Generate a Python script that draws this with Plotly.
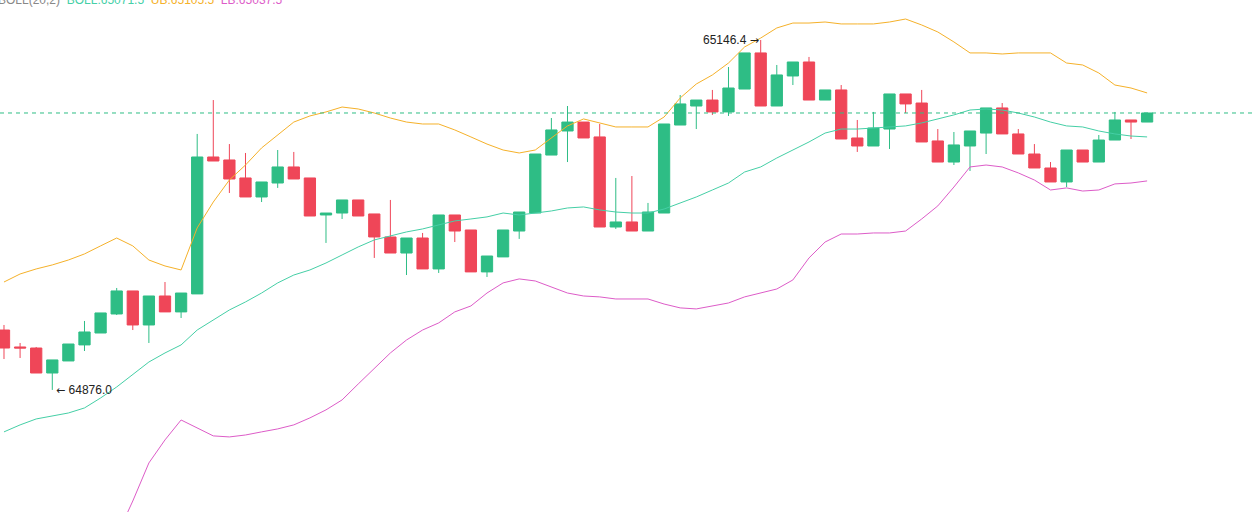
import plotly.graph_objects as go

# candle index (one candle per period)
idx = list(range(72))

opens = [64922.3, 64909.2, 64908.4, 64889.1, 64898.4, 64910.8, 64920.0, 64934.7, 64952.5, 64926.2,
         64948.6, 64936.3, 64950.2, 65056.0, 65053.7, 65039.8, 65025.1, 65035.9, 65048.3, 65039.8,
         65011.2, 65012.7, 65022.8, 65012.0, 64994.2, 64981.8, 64993.4, 64969.5, 65011.2, 64999.6,
         64967.2, 64978.8, 64998.8, 65012.7, 65057.5, 65076.1, 65083.0, 65071.5, 65001.9, 65005.8,
         64998.8, 65012.7, 65080.7, 65095.4, 65100.0, 65090.8, 65108.5, 65136.4, 65095.4, 65118.6,
         65129.4, 65100.0, 65107.8, 65070.7, 65064.5, 65077.6, 65104.7, 65097.7, 65068.4, 65052.1,
         65064.5, 65074.5, 65093.9, 65073.8, 65058.3, 65047.5, 65036.7, 65061.4, 65052.1, 65069.1,
         65084.6, 65083.0]
highs = [64926.2, 64912.3, 64909.2, 64899.2, 64911.5, 64929.3, 64935.5, 64954.8, 64952.5, 64948.6,
         64959.4, 64950.9, 65073.8, 65100.0, 65066.0, 65059.1, 65036.7, 65061.4, 65059.9, 65039.8,
         65012.7, 65022.8, 65022.8, 65012.0, 65022.8, 64993.4, 64997.3, 65011.2, 65011.2, 64999.6,
         64979.5, 64999.6, 65013.5, 65058.3, 65086.1, 65095.4, 65083.0, 65081.5, 65039.8, 65041.3,
         65020.5, 65081.5, 65103.9, 65100.0, 65107.8, 65125.5, 65136.4, 65146.4, 65127.1, 65129.4,
         65133.3, 65107.8, 65111.6, 65084.6, 65090.8, 65104.7, 65104.7, 65107.8, 65077.6, 65075.3,
         65076.1, 65093.9, 65097.7, 65077.6, 65066.0, 65052.1, 65061.4, 65061.4, 65073.0, 65090.8,
         65084.6, 65090.0]
lows = [64899.9, 64900.7, 64889.1, 64876.0, 64898.4, 64906.1, 64920.0, 64933.9, 64922.3, 64912.3,
        64936.3, 64931.6, 64950.2, 65052.9, 65028.2, 65025.1, 65021.2, 65032.1, 65039.0, 65010.4,
        64989.6, 65008.1, 65010.4, 64978.0, 64981.8, 64964.8, 64969.5, 64966.4, 64990.3, 64967.2,
        64963.3, 64978.8, 64992.7, 65012.7, 65057.5, 65052.1, 65070.7, 65001.9, 65000.4, 64998.8,
        64998.8, 65012.7, 65080.7, 65077.6, 65088.5, 65087.7, 65108.5, 65095.4, 65095.4, 65111.6,
        65100.0, 65100.0, 65069.9, 65059.9, 65064.5, 65062.2, 65090.0, 65067.6, 65052.1, 65049.8,
        65045.2, 65058.3, 65073.8, 65058.3, 65047.5, 65036.7, 65032.8, 65052.1, 65052.1, 65069.1,
        65069.9, 65083.0]
closes = [64908.4, 64908.4, 64889.1, 64899.2, 64911.5, 64920.8, 64935.5, 64952.5, 64926.2, 64948.6,
          64936.3, 64950.9, 65056.0, 65052.9, 65039.0, 65025.1, 65036.7, 65048.3, 65039.0, 65010.4,
          65012.7, 65022.8, 65010.4, 64994.2, 64981.8, 64993.4, 64969.5, 65011.2, 64998.8, 64967.2,
          64979.5, 64999.6, 65013.5, 65058.3, 65076.9, 65083.0, 65070.7, 65001.9, 65005.8, 64998.8,
          65013.5, 65081.5, 65097.0, 65100.0, 65090.8, 65109.3, 65136.4, 65095.4, 65119.4, 65129.4,
          65100.0, 65107.8, 65069.9, 65064.5, 65078.4, 65104.7, 65097.0, 65067.6, 65052.1, 65065.3,
          65076.1, 65093.9, 65073.8, 65058.3, 65047.5, 65036.7, 65061.4, 65052.1, 65069.1, 65084.6,
          65083.0, 65090.0]

boll_ub = [64959.4, 64965.6, 64969.5, 64972.6, 64976.4, 64981.1, 64987.3, 64993.4, 64987.3, 64976.4,
           64971.8, 64968.7, 65001.2, 65021.2, 65038.2, 65049.8, 65063.0, 65073.0, 65083.0, 65087.7,
           65090.8, 65094.6, 65093.1, 65090.0, 65086.1, 65083.0, 65081.5, 65081.5, 65076.9, 65071.5,
           65066.0, 65061.4, 65059.1, 65061.4, 65070.7, 65080.0, 65085.4, 65082.3, 65079.2, 65079.2,
           65079.2, 65086.9, 65101.6, 65112.4, 65119.4, 65128.6, 65141.0, 65147.9, 65155.7, 65159.5,
           65159.5, 65160.3, 65158.8, 65158.8, 65158.8, 65160.3, 65162.6, 65158.0, 65152.6, 65144.9,
           65136.4, 65136.4, 65135.6, 65136.4, 65136.4, 65136.4, 65128.6, 65127.1, 65120.9, 65111.6,
           65109.3, 65105.5]
boll_mid = [64843.6, 64849.0, 64853.6, 64855.9, 64858.2, 64862.1, 64869.8, 64878.3, 64887.6, 64897.6,
            64904.6, 64910.8, 64922.3, 64930.1, 64937.8, 64944.0, 64950.9, 64958.7, 64964.8, 64968.7,
            64974.1, 64980.3, 64986.5, 64991.9, 64995.0, 64998.1, 65000.4, 65003.5, 65006.6, 65008.1,
            65009.7, 65012.7, 65011.2, 65012.7, 65014.3, 65016.6, 65017.4, 65015.1, 65013.5, 65012.7,
            65012.7, 65015.8, 65020.5, 65025.1, 65030.5, 65035.9, 65044.4, 65048.3, 65055.2, 65061.4,
            65067.6, 65074.5, 65077.6, 65077.6, 65078.4, 65079.2, 65080.0, 65082.3, 65085.4, 65088.5,
            65092.3, 65093.1, 65092.3, 65090.0, 65086.9, 65083.0, 65080.0, 65079.2, 65076.1, 65073.8,
            65072.2, 65071.5]
boll_lb = [64727.7, 64732.3, 64737.7, 64739.3, 64740.0, 64743.1, 64752.4, 64763.2, 64790.2, 64819.6,
           64837.4, 64852.8, 64846.6, 64840.5, 64839.7, 64841.2, 64843.6, 64845.9, 64849.0, 64854.4,
           64860.6, 64868.3, 64880.6, 64893.0, 64904.6, 64914.6, 64922.3, 64927.8, 64936.3, 64940.9,
           64950.9, 64958.7, 64961.8, 64960.2, 64955.6, 64950.9, 64948.6, 64947.9, 64946.3, 64946.3,
           64946.3, 64942.4, 64939.4, 64938.6, 64940.9, 64943.2, 64947.9, 64950.9, 64954.0, 64961.0,
           64978.0, 64990.3, 64996.5, 64996.5, 64997.3, 64997.3, 64998.8, 65008.1, 65018.2, 65032.8,
           65048.3, 65049.8, 65048.3, 65043.7, 65038.2, 65030.5, 65032.1, 65029.7, 65030.5, 65035.2,
           65035.9, 65037.5]

high_label = "65146.4"
low_label = "64876.0"
legend_parts = ["BOLL(20,2)", "BOLL:65071.5", "UB:65105.5", "LB:65037.5"]

GREEN = "#2EBD85"
RED = "#EF4658"
UB_C = "#F5B12A"
MID_C = "#45CFA6"
LB_C = "#DD5CC8"

fig = go.Figure()
fig.add_trace(go.Candlestick(
    x=idx, open=opens, high=highs, low=lows, close=closes,
    increasing=dict(line=dict(color=GREEN, width=1), fillcolor=GREEN),
    decreasing=dict(line=dict(color=RED, width=1), fillcolor=RED),
    whiskerwidth=0, hoverinfo="skip", showlegend=False,
))
for vals, col in [(boll_ub, UB_C), (boll_mid, MID_C), (boll_lb, LB_C)]:
    fig.add_trace(go.Scatter(x=idx, y=vals, mode="lines",
                             line=dict(color=col, width=1), hoverinfo="skip",
                             showlegend=False))

last_close = closes[-1]
fig.add_shape(type="line", xref="paper", x0=0, x1=1, yref="y",
              y0=last_close, y1=last_close,
              line=dict(color=GREEN, width=1, dash="4px,4px"))

arrow_style = "font-family:DejaVu Sans;font-size:11px"
hi_i = highs.index(max(highs))
lo_i = lows.index(min(lows))
fig.add_annotation(x=idx[hi_i], y=max(highs),
                   text=high_label + f" <span style='{arrow_style}'>\u2192</span>",
                   showarrow=False, xanchor="right", yanchor="middle", xshift=0,
                   font=dict(family="Arial, Liberation Sans", size=12, color="#222"))
fig.add_annotation(x=idx[lo_i], y=min(lows),
                   text=f"<span style='{arrow_style}'>\u2190</span> " + low_label,
                   showarrow=False, xanchor="left", yanchor="middle", xshift=2,
                   font=dict(family="Arial, Liberation Sans", size=12, color="#222"))

leg_cols = ["#888888", MID_C, UB_C, LB_C]
leg_text = "&nbsp;&nbsp;".join(
    f"<span style='color:{c}'>{t}</span>" for t, c in zip(legend_parts, leg_cols))
fig.add_annotation(xref="paper", yref="paper", x=0, y=1, xanchor="left",
                   yanchor="middle", xshift=-4, yshift=0, text=leg_text,
                   showarrow=False,
                   font=dict(family="Arial, Liberation Sans", size=12, color="#888"))

fig.update_layout(
    width=1254, height=512,
    margin=dict(l=0, r=0, t=0, b=0),
    paper_bgcolor="white", plot_bgcolor="white",
    xaxis=dict(range=[-0.248, 77.64], visible=False, rangeslider=dict(visible=False),
               fixedrange=True),
    yaxis=dict(range=[64781.7, 65177.3], visible=False, fixedrange=True),
    boxgap=0.3, boxgroupgap=0,
    hovermode=False,
)

fig.write_html("out.html", config={"displayModeBar": False})
